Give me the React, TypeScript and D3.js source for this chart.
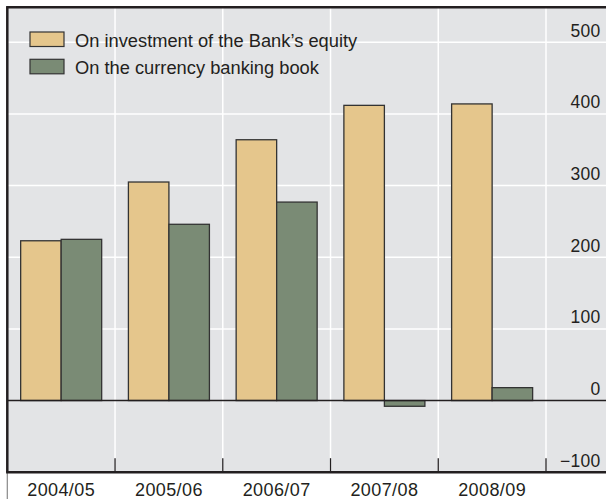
import React from "react";
import * as d3 from "d3";

const categories = ["2004/05", "2005/06", "2006/07", "2007/08", "2008/09"];
const seriesNames = ["On investment of the Bank\u2019s equity", "On the currency banking book"];
const equityValues = [223, 305, 364, 412, 414];
const bankingBookValues = [225, 246, 277, -8, 18];
const yTicks = [-100, 0, 100, 200, 300, 400, 500];

const W = 606;
const H = 499;
const COLORS = ["#E5C68C", "#7A8B75"];
const BG = "#E3E4E6";
const DARK = "#231F20";
const FONT = "'Liberation Sans', Arial, sans-serif";

export default function App() {
  const left = 7.3;
  const top = 7.3;
  const bottom = 472.2;
  const x = d3.scaleBand<string>().domain(categories).range([left, 546]).paddingInner(0).paddingOuter(0);
  const xs = d3.scaleBand<string>().domain(["a", "b"]).range([0, x.bandwidth()]).paddingInner(0).paddingOuter(0.33);
  const y = d3.scaleLinear().domain([-100, 500]).range([bottom, 42.3]);
  const series = [equityValues, bankingBookValues];
  const keys = ["a", "b"];
  const boundaries = categories.slice(1).map((c) => x(c)!).concat([x(categories[categories.length - 1])! + x.bandwidth()]);

  return (
    <svg width={W} height={H} style={{ position: "absolute", left: 0, top: 0, fontFamily: FONT }}>
      <rect x={0} y={0} width={W} height={H} fill="#fff" />
      <rect x={left} y={top} width={W - left} height={bottom - top} fill={BG} />
      {/* horizontal gridlines */}
      {yTicks.filter((t) => t > 0).map((t) => (
        <line key={"h" + t} x1={left} x2={W} y1={y(t)} y2={y(t)} stroke="#fff" strokeWidth={1.5} />
      ))}
      {/* vertical gridlines */}
      {boundaries.map((b, i) => (
        <line key={"v" + i} x1={b} x2={b} y1={top} y2={bottom - 14} stroke="#fff" strokeWidth={1.5} />
      ))}
      {/* bars */}
      {categories.map((c, ci) =>
        series.map((s, si) => {
          const v = s[ci];
          const y0 = y(0);
          const yv = y(v);
          return (
            <rect
              key={c + si}
              x={x(c)! + xs(keys[si])!}
              y={Math.min(y0, yv)}
              width={xs.bandwidth()}
              height={Math.abs(y0 - yv)}
              fill={COLORS[si]}
              stroke="#333"
              strokeWidth={1.3}
            />
          );
        })
      )}
      {/* zero line */}
      <line x1={left} x2={W} y1={y(0)} y2={y(0)} stroke={DARK} strokeWidth={1.5} />
      {/* tick marks */}
      {boundaries.map((b, i) => (
        <line key={"t" + i} x1={b} x2={b} y1={bottom - 14} y2={bottom} stroke={DARK} strokeWidth={1.2} />
      ))}
      {/* borders */}
      <line x1={left - 1.2} x2={W} y1={top} y2={top} stroke={DARK} strokeWidth={2.5} />
      <line x1={left} x2={left} y1={top} y2={bottom} stroke={DARK} strokeWidth={2.5} />
      <line x1={left} x2={left} y1={bottom} y2={H} stroke="#888" strokeWidth={1.2} />
      <line x1={left - 1.2} x2={W} y1={bottom} y2={bottom} stroke={DARK} strokeWidth={2.5} />
      {/* y labels */}
      {yTicks.map((t) => (
        <text key={"yl" + t} x={600.5} y={y(t) - 5.5} textAnchor="end" fontSize={17.5} letterSpacing={0.3} fill={DARK}>
          {t < 0 ? "\u2212" + Math.abs(t) : t}
        </text>
      ))}
      {/* x labels */}
      {categories.map((c) => (
        <text key={"xl" + c} x={x(c)! + x.bandwidth() / 2} y={495.5} textAnchor="middle" fontSize={18} letterSpacing={0.4} fill={DARK}>
          {c}
        </text>
      ))}
      {/* legend */}
      {seriesNames.map((n, i) => (
        <g key={n} transform={`translate(30, ${32 + i * 27.3})`}>
          <rect x={0} y={0} width={34} height={14.5} fill={COLORS[i]} stroke="#333" strokeWidth={1.2} />
          <text x={45} y={14.5} fontSize={18.3} fill={DARK}>
            {n}
          </text>
        </g>
      ))}
    </svg>
  );
}
